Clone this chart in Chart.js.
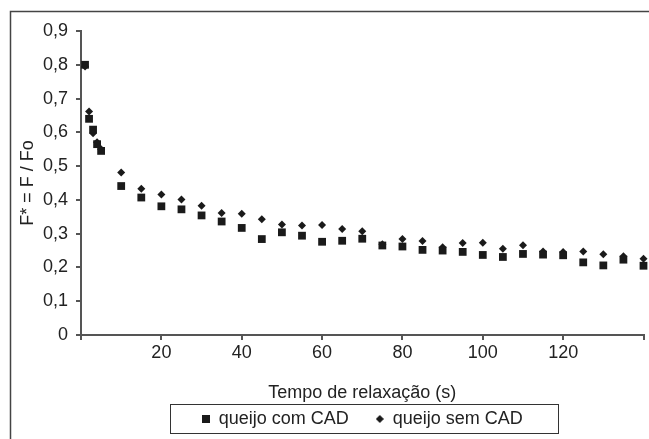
<!DOCTYPE html>
<html lang="pt">
<head>
  <meta charset="UTF-8" />
  <title>Relaxação - queijo com e sem CAD</title>
  <script src="https://cdn.jsdelivr.net/npm/chart.js"></script>
  <style>
    body {
      margin: 0;
      background: #fff;
      width: 649px;
      height: 439px;
      overflow: hidden;
    }
    .wrap {
      position: relative;
      width: 649px;
      height: 439px;
    }
  </style>
</head>
<body>
  <div class="wrap">
    <canvas id="chart" width="649" height="439"></canvas>
  </div>

  <script>
    // tempo de relaxação (s)
    const tempoCom = [1, 2, 3, 4, 5, 10, 15, 20, 25, 30, 35, 40, 45, 50, 55, 60, 65, 70, 75, 80, 85, 90, 95, 100, 105, 110, 115, 120, 125, 130, 135, 140];
    const tempoSem = [1, 2, 3, 4, 5, 10, 15, 20, 25, 30, 35, 40, 45, 50, 55, 60, 65, 70, 75, 80, 85, 90, 95, 100, 105, 110, 115, 120, 125, 130, 135, 140];

    // F* = F / Fo
    const queijoCom = [0.800, 0.640, 0.608, 0.565, 0.545, 0.441, 0.407, 0.381, 0.372, 0.354, 0.336, 0.317, 0.284, 0.304, 0.294, 0.276, 0.279, 0.285, 0.265, 0.262, 0.252, 0.250, 0.246, 0.237, 0.231, 0.240, 0.238, 0.236, 0.215, 0.206, 0.223, 0.205];
    const queijoSem = [0.795, 0.662, 0.597, 0.571, 0.550, 0.481, 0.433, 0.416, 0.401, 0.383, 0.361, 0.359, 0.343, 0.327, 0.324, 0.326, 0.314, 0.307, 0.269, 0.284, 0.278, 0.260, 0.272, 0.273, 0.255, 0.266, 0.247, 0.246, 0.247, 0.239, 0.233, 0.226];

    const xTicks = [20, 40, 60, 80, 100, 120];
    const yMin = 0, yMax = 0.9, yStep = 0.1;

    const fonte = "'Liberation Sans', Arial, sans-serif";
    const corTexto = '#222';
    const corEixo = '#555';
    const corPonto = '#1a1a1a';

    function pontos(xs, ys) {
      return xs.map((x, i) => ({ x: x, y: ys[i] }));
    }

    // marcadores pequenos da legenda (8x8)
    function marcador(tipo) {
      const cv = document.createElement('canvas');
      cv.width = 8; cv.height = 8;
      const g = cv.getContext('2d');
      g.fillStyle = corPonto;
      if (tipo === 'quadrado') {
        g.fillRect(0, 0, 8, 8);
      } else {
        g.beginPath();
        g.moveTo(4, 0); g.lineTo(8, 4); g.lineTo(4, 8); g.lineTo(0, 4);
        g.closePath();
        g.fill();
      }
      return cv;
    }
    const marcadoresLegenda = [marcador('quadrado'), marcador('losango')];

    // moldura externa e caixa da legenda
    const molduraPlugin = {
      id: 'moldura',
      afterDraw(chart) {
        const c = chart.ctx;
        c.save();
        c.strokeStyle = '#444';
        c.lineWidth = 1.5;
        c.beginPath();
        c.moveTo(10.5, chart.height);
        c.lineTo(10.5, 11.5);
        c.lineTo(chart.width, 11.5);
        c.stroke();

        const boxes = chart.legend.legendHitBoxes;
        if (boxes && boxes.length) {
          const esq = Math.min(...boxes.map(b => b.left));
          const dir = Math.max(...boxes.map(b => b.left + b.width));
          const meio = boxes[0].top + boxes[0].height / 2;
          c.lineWidth = 1;
          c.strokeStyle = '#333';
          c.strokeRect(Math.round(esq - 32) + 0.5, Math.round(meio - 15) + 0.5, Math.round(dir - esq + 67), 29);
        }
        c.restore();
      }
    };

    const ctx = document.getElementById('chart').getContext('2d');
    new Chart(ctx, {
      type: 'scatter',
      data: {
        datasets: [
          {
            label: 'queijo com CAD',
            data: pontos(tempoCom, queijoCom),
            pointStyle: 'rect',
            pointRadius: 5.5,
            backgroundColor: corPonto,
            borderColor: corPonto,
            borderWidth: 0
          },
          {
            label: 'queijo sem CAD',
            data: pontos(tempoSem, queijoSem),
            pointStyle: 'rectRot',
            pointRadius: 4,
            backgroundColor: corPonto,
            borderColor: corPonto,
            borderWidth: 0
          }
        ]
      },
      options: {
        responsive: false,
        animation: false,
        clip: false,
        layout: { padding: { left: 17, right: 1, top: 31, bottom: 1 } },
        scales: {
          x: {
            type: 'linear',
            min: 0,
            max: 140,
            afterBuildTicks(axis) {
              axis.ticks = [0].concat(xTicks, [140]).map(v => ({ value: v }));
            },
            ticks: {
              color: corTexto,
              font: { family: fonte, size: 18 },
              padding: 2,
              maxRotation: 0,
              callback: v => (xTicks.includes(v) ? String(v) : '')
            },
            grid: { drawOnChartArea: false, drawTicks: true, tickLength: 5, color: corEixo, lineWidth: 2 },
            border: { color: corEixo, width: 2 },
            title: {
              display: true,
              text: 'Tempo de relaxação (s)',
              color: corTexto,
              font: { family: fonte, size: 18 },
              padding: { top: 17, bottom: -21.2 }
            }
          },
          y: {
            min: yMin,
            max: yMax,
            ticks: {
              stepSize: yStep,
              color: corTexto,
              font: { family: fonte, size: 18 },
              padding: 8,
              callback: v => (Math.round(v * 10) / 10).toString().replace('.', ',')
            },
            grid: { drawOnChartArea: false, drawTicks: true, tickLength: 5, color: corEixo, lineWidth: 2 },
            border: { color: corEixo, width: 2 },
            title: {
              display: true,
              text: 'F* = F / Fo',
              color: corTexto,
              font: { family: fonte, size: 18 },
              padding: { top: 0, bottom: -3.6 }
            }
          }
        },
        plugins: {
          legend: {
            position: 'bottom',
            fullSize: false,
            labels: {
              usePointStyle: true,
              boxHeight: 8,
              pointStyleWidth: 8,
              padding: 27,
              color: corTexto,
              font: { family: fonte, size: 18 },
              generateLabels(chart) {
                const itens = Chart.defaults.plugins.legend.labels.generateLabels(chart);
                itens.forEach((it, i) => { it.pointStyle = marcadoresLegenda[i]; });
                return itens;
              }
            }
          },
          tooltip: { enabled: false }
        }
      },
      plugins: [molduraPlugin]
    });
  </script>
</body>
</html>
